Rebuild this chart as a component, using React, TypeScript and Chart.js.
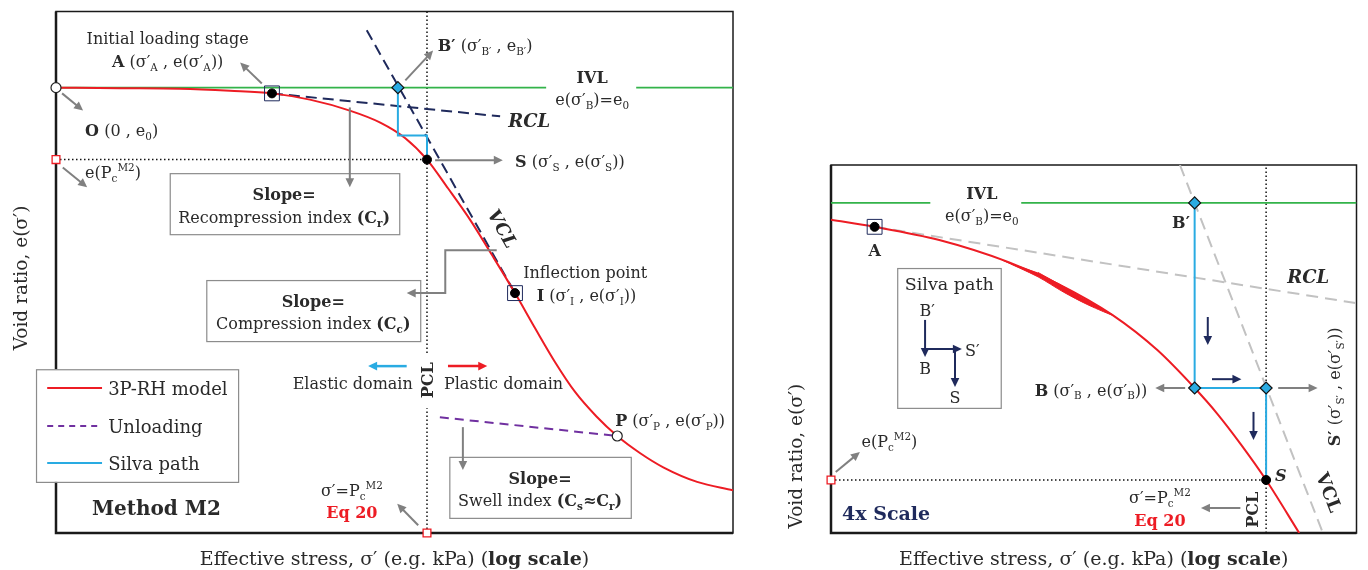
import React, { useEffect, useRef } from 'react';
import { Chart, registerables } from 'chart.js';
Chart.register(...registerables);

const RED = '#ed1c24';
const GREEN = '#33b34a';
const CYAN = '#29abe2';
const NAVY = '#1f2a5c';
const PURPLE = '#7030a0';
const GRAY = '#808080';
const LGRAY = '#c2c2c2';
const TXT = '#2a2a2a';
const FONT = '"DejaVu Serif", serif';

// ---------- Left chart: Method M2 (x: log effective stress, relative 0-100; y: void ratio, relative 0-100)
const m2CurveX = [0, 9.5, 18.3, 25.7, 31.9, 37.5, 43.4, 47.9, 51.6, 54.8, 57.9, 61.2, 64.4, 67.8, 70.75, 73.7, 76.7, 79.8, 82.9, 86.3, 89.7, 94.7, 100];
const m2CurveY = [85.4, 85.3, 85.2, 84.8, 84.3, 83.1, 81.0, 78.7, 75.7, 71.6, 66.1, 60.0, 53.3, 46.0, 39.3, 32.8, 27.0, 22.4, 18.6, 15.3, 12.6, 9.8, 8.2];
const m2PointLabels = ['O', 'A', 'B′', 'S', 'I', 'P'];
const m2PointX = [0, 31.9, 50.5, 54.8, 67.8, 82.9];
const m2PointY = [85.4, 84.3, 85.4, 71.6, 46.0, 18.6];
const m2E0 = 85.4;
const m2IvlX = [0, 72.4, 85.7, 100];
const m2RclX = [31.9, 65.6];
const m2RclY = [84.3, 79.9];
const m2VclX = [45.9, 67.8];
const m2VclY = [96.4, 46.0];
const m2SilvaX = [50.5, 50.5, 54.8, 54.8];
const m2SilvaY = [85.4, 76.2, 76.2, 71.6];
const m2PcStress = 54.8;
const m2PcVoid = 71.6;
const m2PclGapY = [23.9, 34.5];
const m2UnloadX = [56.7, 82.9];
const m2UnloadY = [22.2, 18.6];
const legendLabels = ['3P-RH model', 'Unloading', 'Silva path'];

// ---------- Right chart: 4x scale
const zCurveX = [0, 8.3, 20.6, 33.8, 43.2, 53.6, 62.1, 69.2, 73.4, 78.1, 82.8, 89.1];
const zCurveY = [85.1, 83.2, 79.6, 73.6, 67.7, 59.2, 49.7, 39.4, 32.6, 23.9, 14.4, 0];
const zFoldX = [32.5, 39.4, 44.2, 48.9, 53.6, 48.9, 44.2, 39.4];
const zFoldY = [74.2, 69.6, 65.5, 62.0, 59.2, 63.1, 67.0, 70.8];
const zPointLabels = ['A', 'B′', 'B', 'S′', 'S'];
const zPointX = [8.3, 69.2, 69.2, 82.8, 82.8];
const zPointY = [83.2, 89.7, 39.4, 39.4, 14.4];
const zE0 = 89.7;
const zIvlX = [0, 18.9, 36.2, 100];
const zRclX = [8.3, 99.8];
const zRclY = [83.2, 62.5];
const zVclX = [66.4, 93.6];
const zVclY = [100, 0];
const zSilvaX = [69.2, 69.2, 82.8, 82.8];
const zSilvaY = [89.7, 39.4, 39.4, 14.4];
const zPcStress = 82.8;
const zPcVoid = 14.4;

type Run = { t: string; b: boolean; i: boolean; sub?: boolean; sup?: boolean };
function parseRich(s: string): Run[] {
  const runs: Run[] = [];
  let b = false, it = false, buf = '', k = 0;
  const push = (t: string, extra: any = {}) => { if (t) runs.push({ t, b, i: it, ...extra }); };
  while (k < s.length) {
    if (s.startsWith('**', k)) { push(buf); buf = ''; b = !b; k += 2; continue; }
    if (s.startsWith('//', k)) { push(buf); buf = ''; it = !it; k += 2; continue; }
    if ((s[k] === '_' || s[k] === '^') && s[k + 1] === '{') {
      push(buf); buf = '';
      const end = s.indexOf('}', k);
      push(s.slice(k + 2, end), s[k] === '_' ? { sub: true } : { sup: true });
      k = end + 1; continue;
    }
    buf += s[k]; k++;
  }
  push(buf);
  return runs;
}

function drawRich(ctx: CanvasRenderingContext2D, s: string, x: number, y: number, o: any = {}) {
  const size = o.size ?? 16;
  const runs = parseRich(s);
  const fontOf = (r: Run) => `${r.i ? 'italic ' : ''}${r.b ? 'bold ' : ''}${(r.sub || r.sup) ? size * 0.65 : size}px ${FONT}`;
  let total = 0;
  const ws = runs.map((r) => { ctx.font = fontOf(r); const w = ctx.measureText(r.t).width; total += w; return w; });
  ctx.save();
  ctx.translate(x, y);
  if (o.rot) ctx.rotate(o.rot);
  ctx.fillStyle = o.color ?? TXT;
  ctx.textBaseline = 'alphabetic';
  ctx.textAlign = 'left';
  let cx = o.align === 'center' ? -total / 2 : o.align === 'right' ? -total : 0;
  const base = 0.36 * size;
  runs.forEach((r, k) => {
    ctx.font = fontOf(r);
    const dy = r.sub ? 0.24 * size : r.sup ? -0.42 * size : 0;
    ctx.fillText(r.t, cx, base + dy);
    cx += ws[k];
  });
  ctx.restore();
}

function drawArrow(ctx: CanvasRenderingContext2D, pts: number[][], color: string, width = 2, head = 9) {
  ctx.save();
  ctx.strokeStyle = color; ctx.fillStyle = color; ctx.lineWidth = width; ctx.setLineDash([]);
  const n = pts.length;
  const [x2, y2] = pts[n - 1];
  const [x1, y1] = pts[n - 2];
  const a = Math.atan2(y2 - y1, x2 - x1);
  ctx.beginPath();
  ctx.moveTo(pts[0][0], pts[0][1]);
  for (let k = 1; k < n - 1; k++) ctx.lineTo(pts[k][0], pts[k][1]);
  ctx.lineTo(x2 - Math.cos(a) * head * 0.8, y2 - Math.sin(a) * head * 0.8);
  ctx.stroke();
  const hw = head * 0.48;
  ctx.beginPath();
  ctx.moveTo(x2, y2);
  ctx.lineTo(x2 - head * Math.cos(a) + hw * Math.sin(a), y2 - head * Math.sin(a) - hw * Math.cos(a));
  ctx.lineTo(x2 - head * Math.cos(a) - hw * Math.sin(a), y2 - head * Math.sin(a) + hw * Math.cos(a));
  ctx.closePath();
  ctx.fill();
  ctx.restore();
}

const line = (xs: number[], ys: number[], o: any) => ({
  type: 'line',
  data: xs.map((x, i) => ({ x, y: ys[i] })),
  borderColor: o.c, borderWidth: o.w ?? 2, borderDash: o.d ?? [],
  pointRadius: 0, fill: false, tension: 0, order: o.order ?? 5,
  ...(o.extra || {}),
});
const mark = (xs: number[], ys: number[], o: any) => ({
  type: 'line', showLine: false,
  data: xs.map((x, i) => ({ x, y: ys[i] })),
  pointStyle: o.style, pointRadius: o.r, pointHoverRadius: o.r,
  pointBackgroundColor: o.bg, pointBorderColor: o.bc, pointBorderWidth: o.bw ?? 1,
  clip: false, order: o.order ?? 0,
});

function annotPlugin(ann: any) {
  return {
    id: 'annot',
    beforeDatasetsDraw(chart: any) {
      const { ctx, chartArea: ca, scales } = chart;
      const X = (v: number) => scales.x.getPixelForValue(v);
      const Y = (v: number) => scales.y.getPixelForValue(v);
      ctx.save();
      ctx.setLineDash([]);
      ctx.strokeStyle = '#1a1a1a';
      ctx.lineWidth = 1.5;
      ctx.strokeRect(ca.left, ca.top, ca.right - ca.left, ca.bottom - ca.top);
      ctx.lineWidth = 2.5;
      ctx.beginPath();
      ctx.moveTo(ca.left, ca.top); ctx.lineTo(ca.left, ca.bottom); ctx.lineTo(ca.right, ca.bottom);
      ctx.stroke();
      for (const b of ann.boxes) {
        const x1 = X(b[0]), x2 = X(b[1]), y1 = Y(b[2]), y2 = Y(b[3]);
        ctx.fillStyle = '#fff';
        ctx.fillRect(x1, y1, x2 - x1, y2 - y1);
        ctx.strokeStyle = '#8c8c8c'; ctx.lineWidth = 1.2;
        ctx.strokeRect(x1 + 0.5, y1 + 0.5, x2 - x1, y2 - y1);
      }
      if (ann.legend) {
        const L = ann.legend;
        const x1 = X(L.box[0]), x2 = X(L.box[1]), y1 = Y(L.box[2]), y2 = Y(L.box[3]);
        ctx.fillStyle = '#fff';
        ctx.fillRect(x1, y1, x2 - x1, y2 - y1);
        ctx.strokeStyle = '#8c8c8c'; ctx.lineWidth = 1.2;
        ctx.strokeRect(x1 + 0.5, y1 + 0.5, x2 - x1, y2 - y1);
        L.items.forEach((it: any) => {
          ctx.strokeStyle = it.c; ctx.lineWidth = 2; ctx.setLineDash(it.d || []);
          ctx.beginPath(); ctx.moveTo(X(L.lineX[0]), Y(it.y)); ctx.lineTo(X(L.lineX[1]), Y(it.y)); ctx.stroke();
          ctx.setLineDash([]);
          drawRich(ctx, it.label, X(L.textX), Y(it.y), { size: 18 });
        });
      }
      ctx.restore();
    },
    afterDatasetsDraw(chart: any) {
      const { ctx, chartArea: ca, scales } = chart;
      const X = (v: number) => scales.x.getPixelForValue(v);
      const Y = (v: number) => scales.y.getPixelForValue(v);
      for (const a of ann.arrows) {
        drawArrow(ctx, a.p.map((q: number[]) => [X(q[0]), Y(q[1])]), a.c ?? GRAY, a.w ?? 2, a.h ?? 9);
      }
      for (const t of ann.texts) {
        let rot = t.rot;
        if (t.along) {
          const [xs, ys] = t.along;
          rot = Math.atan2(Y(ys[1]) - Y(ys[0]), X(xs[1]) - X(xs[0]));
        }
        drawRich(ctx, t.s, X(t.x), Y(t.y), { size: t.size, align: t.a, color: t.color, rot });
      }
      drawRich(ctx, 'Effective stress, σ′ (e.g. kPa) (**log scale**)', (ca.left + ca.right) / 2, ca.bottom + 25, { size: 19, align: 'center' });
      drawRich(ctx, 'Void ratio, e(σ′)', ca.left - 36, Y(ann.yTitleAt), { size: 18.5, align: 'center', rot: -Math.PI / 2 });
    },
  };
}

function baseOptions(padding: any) {
  return {
    responsive: false,
    animation: false,
    devicePixelRatio: 1,
    events: [],
    layout: { padding },
    plugins: { legend: { display: false }, tooltip: { enabled: false } },
    scales: {
      x: { type: 'linear', min: 0, max: 100, display: false },
      y: { type: 'linear', min: 0, max: 100, display: false },
    },
  };
}

function leftConfig(): any {
  const px = m2PointX, py = m2PointY;
  const datasets = [
    mark([px[0], px[5]], [py[0], py[5]], { style: 'circle', r: 5, bg: '#fff', bc: '#222', bw: 1.2 }),
    mark([px[1], px[3], px[4]], [py[1], py[3], py[4]], { style: 'circle', r: 4.5, bg: '#000', bc: '#000' }),
    mark([px[2]], [py[2]], { style: 'rectRot', r: 6, bg: CYAN, bc: '#111', bw: 1.2 }),
    mark([px[1], px[4]], [py[1], py[4]], { style: 'rect', r: 10.5, bg: 'rgba(0,0,0,0)', bc: NAVY, bw: 1, order: 1 }),
    mark([0, m2PcStress], [m2PcVoid, 0], { style: 'rect', r: 5.5, bg: '#fff', bc: RED, bw: 1.3 }),
    line(m2SilvaX, m2SilvaY, { c: CYAN, w: 2, order: 2 }),
    line(m2CurveX, m2CurveY, { c: RED, w: 2, order: 3, extra: { cubicInterpolationMode: 'monotone' } }),
    line(m2VclX, m2VclY, { c: NAVY, w: 2, d: [11, 6], order: 4 }),
    line(m2RclX, m2RclY, { c: NAVY, w: 2, d: [11, 6], order: 4 }),
    line(m2UnloadX, m2UnloadY, { c: PURPLE, w: 2, d: [9, 6], order: 4 }),
    line(m2IvlX.slice(0, 2), [m2E0, m2E0], { c: GREEN, w: 1.8, order: 6 }),
    line(m2IvlX.slice(2, 4), [m2E0, m2E0], { c: GREEN, w: 1.8, order: 6 }),
    line([m2PcStress, m2PcStress], [0, m2PclGapY[0]], { c: '#111', w: 1.5, d: [1.5, 2.5], order: 7 }),
    line([m2PcStress, m2PcStress], [m2PclGapY[1], 100], { c: '#111', w: 1.5, d: [1.5, 2.5], order: 7 }),
    line([0, m2PcStress], [m2PcVoid, m2PcVoid], { c: '#111', w: 1.5, d: [1.5, 2.5], order: 7 }),
  ];
  const ann = {
    yTitleAt: 48.9,
    boxes: [[16.8, 50.7, 69.0, 57.3], [22.2, 53.8, 48.5, 36.8], [58.1, 84.9, 14.6, 2.9]],
    legend: {
      box: [-2.95, 26.9, 31.4, 9.8], lineX: [-1.3, 6.8], textX: 7.7,
      items: [
        { label: legendLabels[0], c: RED, y: 27.8 },
        { label: legendLabels[1], c: PURPLE, d: [6, 5], y: 20.5 },
        { label: legendLabels[2], c: CYAN, y: 13.4 },
      ],
    },
    arrows: [
      { p: [[30.4, 86.2], [27.2, 90.2]] },
      { p: [[0.9, 84.3], [4.0, 81.0]] },
      { p: [[1.0, 70.1], [4.6, 66.3]] },
      { p: [[43.4, 81.6], [43.4, 66.3]] },
      { p: [[51.6, 86.8], [55.7, 92.5]] },
      { p: [[56.0, 71.5], [66.0, 71.5]] },
      { p: [[65.1, 54.2], [57.5, 54.2], [57.5, 46.0], [51.8, 46.0]] },
      { p: [[60.1, 20.3], [60.1, 12.1]] },
      { p: [[53.5, 1.5], [50.4, 5.6]] },
      { p: [[51.8, 32.0], [46.1, 32.0]], c: CYAN, w: 2.5 },
      { p: [[57.9, 32.0], [63.7, 32.0]], c: RED, w: 2.5 },
    ],
    texts: [
      { s: 'Initial loading stage', x: 16.5, y: 94.8, a: 'center' },
      { s: `**${m2PointLabels[1]}** (σ′_{A} , e(σ′_{A}))`, x: 16.5, y: 90.4, a: 'center' },
      { s: `**${m2PointLabels[0]}** (0 , e_{0})`, x: 4.3, y: 77.2 },
      { s: 'e(P_{c}^{M2})', x: 4.3, y: 69.2 },
      { s: `**${m2PointLabels[2]}** (σ′_{B′} , e_{B′})`, x: 56.4, y: 93.5 },
      { s: '**IVL**', x: 79.2, y: 87.4, a: 'center' },
      { s: 'e(σ′_{B})=e_{0}', x: 79.2, y: 83.1, a: 'center' },
      { s: '**//RCL//**', x: 66.8, y: 79.1, size: 18 },
      { s: `**${m2PointLabels[3]}** (σ′_{S} , e(σ′_{S}))`, x: 67.8, y: 71.3 },
      { s: '**Slope=**', x: 33.7, y: 64.9, a: 'center' },
      { s: 'Recompression index **(C_{r})**', x: 33.7, y: 60.5, a: 'center' },
      { s: '**//VCL//**', x: 66.0, y: 58.4, a: 'center', size: 18, along: [m2VclX, m2VclY] },
      { s: 'Inflection point', x: 69.0, y: 50.0 },
      { s: `**${m2PointLabels[4]}** (σ′_{I} , e(σ′_{I}))`, x: 71.0, y: 45.6 },
      { s: '**Slope=**', x: 38.0, y: 44.4, a: 'center' },
      { s: 'Compression index **(C_{c})**', x: 38.0, y: 40.2, a: 'center' },
      { s: 'Elastic domain', x: 52.7, y: 28.7, a: 'right' },
      { s: 'Plastic domain', x: 57.3, y: 28.7 },
      { s: '**PCL**', x: 54.8, y: 29.3, a: 'center', rot: -Math.PI / 2 },
      { s: `**${m2PointLabels[5]}** (σ′_{P} , e(σ′_{P}))`, x: 82.6, y: 21.6 },
      { s: '**Slope=**', x: 71.5, y: 10.5, a: 'center' },
      { s: 'Swell index **(C_{s}≈C_{r})**', x: 71.5, y: 6.3, a: 'center' },
      { s: '**Method M2**', x: 5.3, y: 4.8, size: 20 },
      { s: 'σ′=P_{c}^{M2}', x: 43.7, y: 8.2, a: 'center' },
      { s: '**Eq 20**', x: 43.7, y: 4.0, a: 'center', color: RED },
    ],
  };
  return {
    type: 'line',
    data: { datasets },
    options: baseOptions({ left: 56, right: 27, top: 11, bottom: 37 }),
    plugins: [annotPlugin(ann)],
  };
}

function rightConfig(): any {
  const px = zPointX, py = zPointY;
  const datasets = [
    mark([px[0], px[4]], [py[0], py[4]], { style: 'circle', r: 4.5, bg: '#000', bc: '#000' }),
    mark([px[1], px[2], px[3]], [py[1], py[2], py[3]], { style: 'rectRot', r: 6, bg: CYAN, bc: '#111', bw: 1.2 }),
    mark([px[0]], [py[0]], { style: 'rect', r: 10.5, bg: 'rgba(0,0,0,0)', bc: NAVY, bw: 1, order: 1 }),
    mark([0], [zPcVoid], { style: 'rect', r: 5.5, bg: '#fff', bc: RED, bw: 1.3 }),
    line(zSilvaX, zSilvaY, { c: CYAN, w: 2, order: 2 }),
    line(zCurveX, zCurveY, { c: RED, w: 2, order: 3, extra: { cubicInterpolationMode: 'monotone' } }),
    line(zFoldX, zFoldY, { c: RED, w: 1, order: 3, extra: { fill: 'shape', backgroundColor: RED, tension: 0.3 } }),
    line(zVclX, zVclY, { c: LGRAY, w: 2, d: [12, 7], order: 4 }),
    line(zRclX, zRclY, { c: LGRAY, w: 2, d: [12, 7], order: 4 }),
    line(zIvlX.slice(0, 2), [zE0, zE0], { c: GREEN, w: 1.8, order: 6 }),
    line(zIvlX.slice(2, 4), [zE0, zE0], { c: GREEN, w: 1.8, order: 6 }),
    line([zPcStress, zPcStress], [0, 100], { c: '#111', w: 1.5, d: [1.5, 2.5], order: 7 }),
    line([0, zPcStress], [zPcVoid, zPcVoid], { c: '#111', w: 1.5, d: [1.5, 2.5], order: 7 }),
  ];
  const ann = {
    yTitleAt: 20.9,
    boxes: [[12.6, 32.3, 72.0, 34.0]],
    arrows: [
      { p: [[17.9, 57.9], [17.9, 47.8]], c: NAVY, w: 2 },
      { p: [[17.9, 50.0], [24.9, 50.0]], c: NAVY, w: 2 },
      { p: [[23.6, 50.0], [23.6, 39.7]], c: NAVY, w: 2 },
      { p: [[71.7, 58.7], [71.7, 51.1]], c: NAVY, w: 2 },
      { p: [[72.5, 41.8], [78.1, 41.8]], c: NAVY, w: 2 },
      { p: [[80.4, 32.9], [80.4, 25.3]], c: NAVY, w: 2 },
      { p: [[67.4, 39.4], [61.7, 39.4]] },
      { p: [[85.1, 39.4], [92.6, 39.4]] },
      { p: [[0.9, 16.6], [5.5, 22.0]] },
      { p: [[77.9, 6.8], [70.4, 6.8]] },
    ],
    texts: [
      { s: '**IVL**', x: 28.7, y: 92.4, a: 'center' },
      { s: 'e(σ′_{B})=e_{0}', x: 28.7, y: 86.4, a: 'center' },
      { s: `**${zPointLabels[0]}**`, x: 8.3, y: 76.9, a: 'center' },
      { s: `**${zPointLabels[1]}**`, x: 66.6, y: 84.5, a: 'center' },
      { s: '**//RCL//**', x: 90.8, y: 69.6, a: 'center', size: 18 },
      { s: 'Silva path', x: 22.5, y: 67.7, a: 'center', size: 17.5 },
      { s: 'B′', x: 18.3, y: 60.6, a: 'center' },
      { s: 'S′', x: 25.5, y: 49.7 },
      { s: 'B', x: 17.9, y: 44.8, a: 'center' },
      { s: 'S', x: 23.6, y: 37.0, a: 'center' },
      { s: `**${zPointLabels[2]}** (σ′_{B} , e(σ′_{B}))`, x: 60.2, y: 38.9, a: 'right' },
      { s: `**${zPointLabels[3]}** (σ′_{S′} , e(σ′_{S′}))`, x: 95.7, y: 39.7, a: 'center', rot: -Math.PI / 2 },
      { s: 'e(P_{c}^{M2})', x: 5.8, y: 25.0 },
      { s: 'σ′=P_{c}^{M2}', x: 62.6, y: 9.8, a: 'center' },
      { s: '**Eq 20**', x: 62.6, y: 3.5, a: 'center', color: RED },
      { s: '**PCL**', x: 80.2, y: 6.3, a: 'center', rot: -Math.PI / 2 },
      { s: `**//${zPointLabels[4]}//**`, x: 84.5, y: 15.8 },
      { s: '**4x Scale**', x: 2.1, y: 5.4, size: 19, color: NAVY },
      { s: '**VCL**', x: 94.8, y: 11.1, a: 'center', size: 18, along: [zVclX, zVclY] },
    ],
  };
  return {
    type: 'line',
    data: { datasets },
    options: baseOptions({ left: 71, right: 7, top: 165, bottom: 37 }),
    plugins: [annotPlugin(ann)],
  };
}

function ChartCanvas({ make, left, width }: { make: () => any; left: number; width: number }) {
  const ref = useRef<HTMLCanvasElement>(null);
  useEffect(() => {
    const chart = new Chart(ref.current as HTMLCanvasElement, make());
    return () => chart.destroy();
  }, []);
  return (
    <canvas
      ref={ref}
      width={width}
      height={570}
      style={{ position: 'absolute', left, top: 0, width, height: 570 }}
    />
  );
}

export default function App() {
  return (
    <div style={{ position: 'absolute', left: 0, top: 0, width: 1368, height: 570, background: '#fff' }}>
      <ChartCanvas make={leftConfig} left={0} width={760} />
      <ChartCanvas make={rightConfig} left={760} width={608} />
    </div>
  );
}
